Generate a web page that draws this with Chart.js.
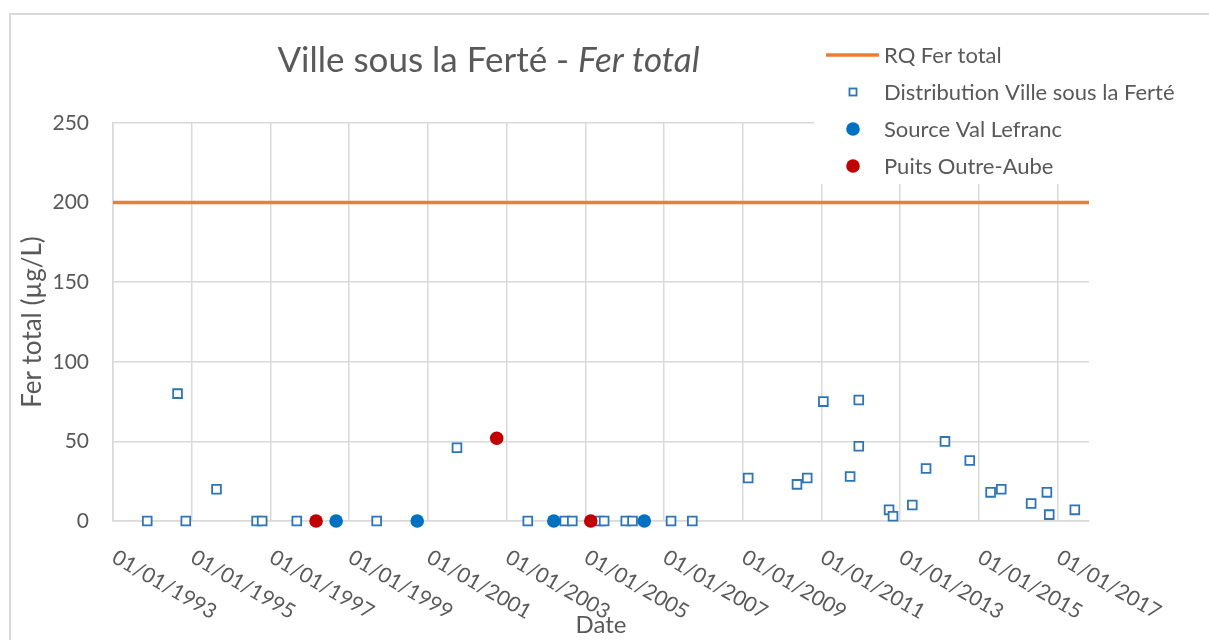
<!DOCTYPE html>
<html>
<head>
<meta charset="utf-8">
<script src="https://cdn.jsdelivr.net/npm/chart.js@4.4.0/dist/chart.umd.min.js"></script>
<style>
  html, body { margin: 0; padding: 0; background: #fff; }
  #wrap { width: 1209px; height: 640px; position: relative; }
</style>
</head>
<body>
<div id="wrap"><canvas id="ferChart"></canvas></div>
<script>
// libellés
const TITLE_MAIN = 'Ville sous la Ferté - ';
const TITLE_ITALIC = 'Fer total';
const Y_TITLE = 'Fer total (µg/L)';
const X_TITLE = 'Date';

// axe des dates (années décimales) et graduations
const X_MIN = 1993;
const X_MAX = 2017.8;
const TICK_YEARS = [1993, 1995, 1997, 1999, 2001, 2003, 2005, 2007, 2009, 2011, 2013, 2015, 2017];
const Y_TICKS = [0, 50, 100, 150, 200, 250];

// référence qualité
const RQ_LABEL = 'RQ Fer total';
const RQ_VALUE = 200;

// Distribution Ville sous la Ferté
const distDates = [1993.87, 1994.64, 1994.85, 1995.63, 1996.65, 1996.79, 1997.67, 1999.70, 2001.74,
    2003.54, 2004.48, 2004.67, 2005.37, 2005.48, 2006.03, 2006.20, 2007.18, 2007.72, 2009.14,
    2010.38, 2010.64, 2011.05, 2011.73, 2011.95, 2011.95, 2012.72, 2012.82, 2013.31, 2013.66,
    2014.14, 2014.77, 2015.30, 2015.57, 2016.33, 2016.73, 2016.79, 2017.44];
const distValues = [0, 80, 0, 20, 0, 0, 0, 0, 46,
    0, 0, 0, 0, 0, 0, 0, 0, 0, 27,
    23, 27, 75, 28, 76, 47, 7, 3, 10, 33,
    50, 38, 18, 20, 11, 18, 4, 7];

// Source Val Lefranc
const sourceDates = [1998.67, 2000.73, 2004.20, 2006.50];
const sourceValues = [0, 0, 0, 0];

// Puits Outre-Aube
const puitsDates = [1998.16, 2002.75, 2005.14];
const puitsValues = [0, 52, 0];

const TEXT_COLOR = '#595959';
const GRID_COLOR = '#d9d9d9';
const FONT = 'Lato';

const toPoints = (xs, ys) => xs.map((x, i) => ({ x: x, y: ys[i] }));
const tickLabel = y => '01/01/' + y;

Chart.defaults.font.family = FONT;
Chart.defaults.font.size = 21;
Chart.defaults.color = TEXT_COLOR;

// cadre gris du graphique
const framePlugin = {
    id: 'frame',
    beforeDraw(chart) {
        const ctx = chart.ctx;
        ctx.save();
        ctx.fillStyle = '#fff';
        ctx.fillRect(0, 0, chart.width, chart.height);
        ctx.strokeStyle = GRID_COLOR;
        ctx.lineWidth = 2;
        ctx.strokeRect(10, 14, chart.width, chart.height);
        ctx.restore();
    }
};

// titre avec partie en italique
const titlePlugin = {
    id: 'mixedTitle',
    afterDraw(chart) {
        const ctx = chart.ctx;
        ctx.save();
        const fMain = `35px ${FONT}`;
        const fItal = `italic 35px ${FONT}`;
        ctx.font = fMain;
        const w1 = ctx.measureText(TITLE_MAIN).width;
        ctx.font = fItal;
        const w2 = ctx.measureText(TITLE_ITALIC).width;
        const x0 = 488.5 - (w1 + w2) / 2;
        ctx.fillStyle = TEXT_COLOR;
        ctx.textBaseline = 'alphabetic';
        ctx.textAlign = 'left';
        ctx.font = fMain;
        ctx.fillText(TITLE_MAIN, x0, 71.5);
        ctx.font = fItal;
        ctx.fillText(TITLE_ITALIC, x0 + w1, 71.5);
        ctx.restore();
    }
};

// étiquettes de dates inclinées vers le bas
const dateLabelsPlugin = {
    id: 'dateLabels',
    afterDraw(chart) {
        const sc = chart.scales.x;
        const ctx = chart.ctx;
        ctx.save();
        ctx.font = `21px ${FONT}`;
        ctx.fillStyle = TEXT_COLOR;
        ctx.textAlign = 'left';
        ctx.textBaseline = 'alphabetic';
        sc.ticks.forEach(t => {
            const px = sc.getPixelForValue(t.value);
            ctx.save();
            ctx.translate(px - 2.5, 561.5);
            ctx.rotate(Math.PI / 6);
            ctx.fillText(tickLabel(t.value), 0, 0);
            ctx.restore();
        });
        ctx.restore();
    }
};

// légende posée sur le coin haut droit
const legendPlugin = {
    id: 'sideLegend',
    afterDraw(chart) {
        const ctx = chart.ctx;
        ctx.save();
        ctx.fillStyle = '#fff';
        ctx.fillRect(814, 34, 390, 150);
        ctx.font = `22px ${FONT}`;
        ctx.textAlign = 'left';
        ctx.textBaseline = 'alphabetic';
        chart.data.datasets.forEach((ds, i) => {
            const cy = 55 + i * 37;
            const cx = 853;
            if (ds.showLine) {
                ctx.strokeStyle = ds.borderColor;
                ctx.lineWidth = ds.borderWidth;
                ctx.beginPath();
                ctx.moveTo(826, cy);
                ctx.lineTo(879, cy);
                ctx.stroke();
            } else if (ds.pointStyle === 'rect') {
                const s = ds.pointRadius * Math.SQRT1_2 * 0.8;
                ctx.fillStyle = ds.backgroundColor;
                ctx.strokeStyle = ds.borderColor;
                ctx.lineWidth = ds.borderWidth;
                ctx.fillRect(cx - s, cy - s, 2 * s, 2 * s);
                ctx.strokeRect(cx - s, cy - s, 2 * s, 2 * s);
            } else {
                ctx.fillStyle = ds.backgroundColor;
                ctx.beginPath();
                ctx.arc(cx, cy, ds.pointRadius, 0, Math.PI * 2);
                ctx.fill();
            }
            ctx.fillStyle = TEXT_COLOR;
            ctx.fillText(ds.label, 884, cy + 8);
        });
        ctx.restore();
    }
};

new Chart(document.getElementById('ferChart').getContext('2d'), {
    type: 'scatter',
    data: {
        datasets: [
            {
                label: RQ_LABEL,
                data: [{ x: X_MIN, y: RQ_VALUE }, { x: X_MAX, y: RQ_VALUE }],
                showLine: true,
                borderColor: '#ed7d31',
                backgroundColor: '#ed7d31',
                borderWidth: 3.5,
                pointRadius: 0,
                order: 4
            },
            {
                label: 'Distribution Ville sous la Ferté',
                data: toPoints(distDates, distValues),
                pointStyle: 'rect',
                pointRadius: 6.2,
                borderColor: '#2e75b6',
                backgroundColor: '#ffffff',
                borderWidth: 1.8,
                clip: false,
                order: 3
            },
            {
                label: 'Source Val Lefranc',
                data: toPoints(sourceDates, sourceValues),
                pointStyle: 'circle',
                pointRadius: 6.8,
                borderWidth: 0,
                backgroundColor: '#0070c0',
                borderColor: '#0070c0',
                clip: false,
                order: 2
            },
            {
                label: 'Puits Outre-Aube',
                data: toPoints(puitsDates, puitsValues),
                pointStyle: 'circle',
                pointRadius: 6.8,
                borderWidth: 0,
                backgroundColor: '#c00000',
                borderColor: '#c00000',
                clip: false,
                order: 1
            }
        ]
    },
    options: {
        responsive: true,
        maintainAspectRatio: false,
        animation: false,
        events: [],
        layout: { padding: { left: 0, top: 123, right: 120, bottom: 0 } },
        plugins: {
            legend: { display: false },
            title: { display: false },
            tooltip: { enabled: false }
        },
        scales: {
            x: {
                type: 'linear',
                min: X_MIN,
                max: X_MAX,
                afterBuildTicks: s => { s.ticks = TICK_YEARS.map(v => ({ value: v })); },
                afterFit: s => { s.height = 119; },
                ticks: { display: false },
                grid: { color: GRID_COLOR, lineWidth: 1.5, drawTicks: false },
                border: { color: GRID_COLOR, width: 1.5 },
                title: { display: true, text: X_TITLE, font: { size: 24 }, padding: { top: 0, bottom: 0 } }
            },
            y: {
                min: 0,
                max: 250,
                afterBuildTicks: s => { s.ticks = Y_TICKS.map(v => ({ value: v })); },
                afterFit: s => { s.width = 113; },
                ticks: { padding: 24, font: { size: 21 } },
                grid: { color: GRID_COLOR, lineWidth: 1.5, drawTicks: false },
                border: { color: GRID_COLOR, width: 1.5 },
                title: { display: true, text: Y_TITLE, font: { size: 26 }, padding: { top: 17, bottom: 0 } }
            }
        }
    },
    plugins: [framePlugin, titlePlugin, dateLabelsPlugin, legendPlugin]
});
</script>
</body>
</html>
